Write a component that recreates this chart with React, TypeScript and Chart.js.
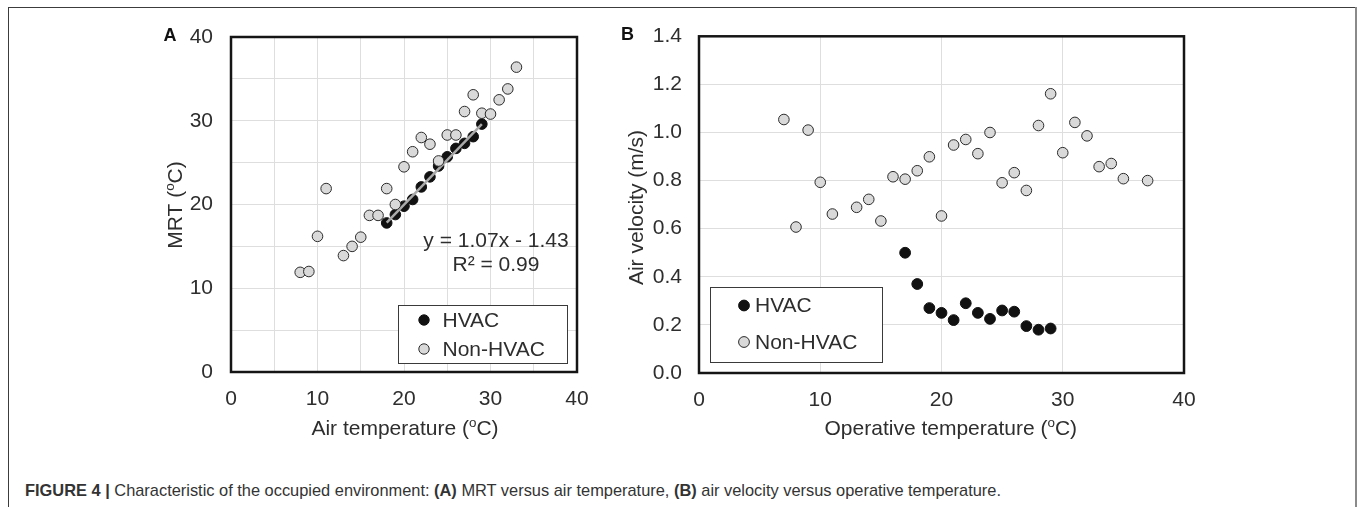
import React, { useEffect, useRef } from 'react';
import { Chart, registerables } from 'chart.js';

Chart.register(...registerables);

const FONT = '"Liberation Sans", Arial, Helvetica, sans-serif';

// ---------- Panel A: MRT vs air temperature ----------
const aHvacX = [18, 19, 20, 21, 22, 23, 24, 25, 26, 27, 28, 29];
const aHvacY = [17.8, 18.8, 19.8, 20.6, 22.1, 23.3, 24.6, 25.7, 26.7, 27.3, 28.1, 29.6];
const aNonX = [8, 9, 10, 11, 13, 14, 15, 16, 17, 18, 19, 20, 21, 22, 23, 24, 25, 26, 27, 28, 29, 30, 31, 32, 33];
const aNonY = [11.9, 12.0, 16.2, 21.9, 13.9, 15.0, 16.1, 18.7, 18.7, 21.9, 20.0, 24.5, 26.3, 28.0, 27.2, 25.2, 28.3, 28.3, 31.1, 33.1, 30.9, 30.8, 32.5, 33.8, 36.4];
const aTrendX = [18, 29];
const aTrendY = [17.83, 29.6];
const aTicks = [0, 10, 20, 30, 40];
const aEquation = 'y = 1.07x - 1.43';
const aR2 = 'R² = 0.99';

// ---------- Panel B: air velocity vs operative temperature ----------
const bHvacX = [17, 18, 19, 20, 21, 22, 23, 24, 25, 26, 27, 28, 29];
const bHvacY = [0.5, 0.37, 0.27, 0.25, 0.22, 0.29, 0.25, 0.225, 0.26, 0.255, 0.195, 0.18, 0.185];
const bNonX = [7, 8, 9, 10, 11, 13, 14, 15, 16, 17, 18, 19, 20, 21, 22, 23, 24, 25, 26, 27, 28, 29, 30, 31, 32, 33, 34, 35, 37];
const bNonY = [1.054, 0.607, 1.01, 0.793, 0.661, 0.689, 0.722, 0.632, 0.816, 0.806, 0.841, 0.899, 0.653, 0.948, 0.971, 0.912, 1.0, 0.791, 0.833, 0.759, 1.029, 1.161, 0.916, 1.042, 0.986, 0.858, 0.871, 0.808, 0.8];
const bXTicks = [0, 10, 20, 30, 40];
const bYTicks = ['0.0', '0.2', '0.4', '0.6', '0.8', '1.0', '1.2', '1.4'];

const seriesNames = ['HVAC', 'Non-HVAC'];

const HVAC_FILL = '#111111';
const NON_FILL = '#d9d9d9';
const EDGE = '#2b2b2b';
const TEXT = '#2e2e2e';
const GRID = '#dedede';

const toPts = (xs: number[], ys: number[]) => xs.map((x, i) => ({ x, y: ys[i] }));

type Part = { t: string; sup?: boolean };

function drawParts(ctx: CanvasRenderingContext2D, parts: Part[], cx: number, size: number) {
  const supSize = size * 0.64;
  const widths = parts.map((p) => {
    ctx.font = `${p.sup ? supSize : size}px ${FONT}`;
    return ctx.measureText(p.t).width;
  });
  const total = widths.reduce((s, w) => s + w, 0);
  let x = cx - total / 2;
  parts.forEach((p, i) => {
    ctx.font = `${p.sup ? supSize : size}px ${FONT}`;
    ctx.fillText(p.t, x, p.sup ? -size * 0.36 : 0);
    x += widths[i];
  });
}

type Deco = {
  letter: { x: number; y: number; t: string };
  xTitle: { parts: Part[]; cx: number; base: number; size: number };
  yTitle: { parts: Part[]; cy: number; base: number; size: number };
  legend: { x1: number; y1: number; x2: number; y2: number; mx: number; my: number[]; tx: number; size: number; r: number };
  notes?: { t: string; cx: number; base: number; size: number }[];
};

function makeDeco(d: Deco) {
  return {
    id: 'deco',
    beforeDatasetsDraw(chart: any) {
      const { ctx, chartArea: a } = chart;
      ctx.save();
      ctx.strokeStyle = '#151515';
      ctx.lineWidth = 2.5;
      ctx.strokeRect(a.left, a.top, a.right - a.left, a.bottom - a.top);
      ctx.restore();
    },
    afterDraw(chart: any) {
      const ctx: CanvasRenderingContext2D = chart.ctx;
      ctx.save();
      // panel letter
      ctx.font = `bold 18px ${FONT}`;
      ctx.textAlign = 'center';
      ctx.textBaseline = 'middle';
      ctx.fillStyle = '#111';
      ctx.fillText(d.letter.t, d.letter.x, d.letter.y);
      ctx.fillStyle = TEXT;
      ctx.textAlign = 'left';
      ctx.textBaseline = 'alphabetic';
      // x title
      ctx.save();
      ctx.translate(0, d.xTitle.base);
      drawParts(ctx, d.xTitle.parts, d.xTitle.cx, d.xTitle.size);
      ctx.restore();
      // y title
      ctx.save();
      ctx.translate(d.yTitle.base, d.yTitle.cy);
      ctx.rotate(-Math.PI / 2);
      drawParts(ctx, d.yTitle.parts, 0, d.yTitle.size);
      ctx.restore();
      // notes
      (d.notes || []).forEach((n) => {
        ctx.font = `${n.size}px ${FONT}`;
        ctx.textAlign = 'center';
        ctx.fillText(n.t, n.cx, n.base);
      });
      // legend
      const L = d.legend;
      ctx.fillStyle = '#ffffff';
      ctx.fillRect(L.x1, L.y1, L.x2 - L.x1, L.y2 - L.y1);
      ctx.strokeStyle = '#3a3a3a';
      ctx.lineWidth = 1;
      ctx.strokeRect(Math.round(L.x1) + 0.5, Math.round(L.y1) + 0.5, Math.round(L.x2 - L.x1), Math.round(L.y2 - L.y1));
      const fills = [HVAC_FILL, NON_FILL];
      seriesNames.forEach((name, i) => {
        ctx.beginPath();
        ctx.arc(L.mx, L.my[i], L.r, 0, Math.PI * 2);
        ctx.fillStyle = fills[i];
        ctx.fill();
        ctx.strokeStyle = i === 0 ? HVAC_FILL : EDGE;
        ctx.lineWidth = 1;
        ctx.stroke();
        ctx.fillStyle = TEXT;
        ctx.font = `${L.size}px ${FONT}`;
        ctx.textAlign = 'left';
        ctx.textBaseline = 'middle';
        ctx.fillText(name, L.tx, L.my[i] + 1);
      });
      ctx.restore();
    },
  };
}

function ScatterPanel(props: { left: number; top: number; w: number; h: number; config: () => any }) {
  const ref = useRef<HTMLCanvasElement | null>(null);
  useEffect(() => {
    if (!ref.current) return;
    const chart = new Chart(ref.current, props.config());
    return () => chart.destroy();
  }, []);
  return (
    <canvas
      ref={ref}
      width={props.w}
      height={props.h}
      style={{ position: 'absolute', left: props.left, top: props.top, width: props.w, height: props.h, display: 'block' }}
    />
  );
}

const fixX = (h: number) => (s: any) => {
  s.height = h;
  s.paddingLeft = 0; s.paddingRight = 0; s.paddingTop = 0; s.paddingBottom = 0;
};
const fixY = (w: number) => (s: any) => {
  s.width = w;
  s.paddingLeft = 0; s.paddingRight = 0; s.paddingTop = 0; s.paddingBottom = 0;
};

const titlePartsA_x: Part[] = [{ t: 'Air temperature (' }, { t: 'o', sup: true }, { t: 'C)' }];
const titlePartsA_y: Part[] = [{ t: 'MRT (' }, { t: 'o', sup: true }, { t: 'C)' }];
const titlePartsB_x: Part[] = [{ t: 'Operative temperature (' }, { t: 'o', sup: true }, { t: 'C)' }];
const titlePartsB_y: Part[] = [{ t: 'Air velocity (m/s)' }];

const FS = 21;

function configA() {
  const fontA = { family: FONT, size: FS };
  return {
    type: 'scatter',
    data: {
      datasets: [
        {
          label: seriesNames[1], data: toPts(aNonX, aNonY), order: 0,
          backgroundColor: NON_FILL, borderColor: EDGE, borderWidth: 1, pointRadius: 5.3,
        },
        {
          label: 'trend', type: 'line', data: toPts(aTrendX, aTrendY), order: 1,
          showLine: true, borderColor: '#a9a9a9', borderWidth: 2.5, pointRadius: 0, fill: false,
        },
        {
          label: seriesNames[0], data: toPts(aHvacX, aHvacY), order: 2,
          backgroundColor: HVAC_FILL, borderColor: HVAC_FILL, borderWidth: 1, pointRadius: 5.3,
        },
      ],
    },
    options: {
      animation: false, responsive: false, events: [],
      layout: { padding: { top: 17, right: 23, left: 0, bottom: 0 } },
      plugins: { legend: { display: false }, tooltip: { enabled: false } },
      scales: {
        x: {
          type: 'linear', min: 0, max: 40,
          afterFit: fixX(78),
          border: { display: false },
          grid: { color: GRID, lineWidth: 1, drawTicks: false },
          ticks: {
            stepSize: 5, autoSkip: false, maxRotation: 0, padding: 15, color: TEXT, font: fontA,
            callback: (v: number) => (aTicks.includes(v) ? String(v) : ''),
          },
        },
        y: {
          type: 'linear', min: 0, max: 40,
          afterFit: fixY(101),
          border: { display: false },
          grid: { color: GRID, lineWidth: 1, drawTicks: false },
          ticks: {
            stepSize: 5, autoSkip: false, padding: 18, color: TEXT, font: fontA,
            callback: (v: number) => (aTicks.includes(v) ? String(v) : ''),
          },
        },
      },
    },
    plugins: [
      makeDeco({
        letter: { x: 40, y: 16, t: 'A' },
        xTitle: { parts: titlePartsA_x, cx: 275, base: 414.5, size: FS },
        yTitle: { parts: titlePartsA_y, cy: 185, base: 51.5, size: FS },
        notes: [
          { t: aEquation, cx: 366, base: 226.5, size: FS },
          { t: aR2, cx: 366, base: 250.5, size: FS },
        ],
        legend: { x1: 268, y1: 285, x2: 437, y2: 343, mx: 294, my: [300, 329], tx: 312.5, size: FS, r: 5.2 },
      }),
    ],
  };
}

function configB() {
  const fontB = { family: FONT, size: FS };
  return {
    type: 'scatter',
    data: {
      datasets: [
        {
          label: seriesNames[0], data: toPts(bHvacX, bHvacY), order: 0,
          backgroundColor: HVAC_FILL, borderColor: HVAC_FILL, borderWidth: 1, pointRadius: 5.4,
        },
        {
          label: seriesNames[1], data: toPts(bNonX, bNonY), order: 1,
          backgroundColor: NON_FILL, borderColor: EDGE, borderWidth: 1, pointRadius: 5.3,
        },
      ],
    },
    options: {
      animation: false, responsive: false, events: [],
      layout: { padding: { top: 16.3, right: 46, left: 0, bottom: 0 } },
      plugins: { legend: { display: false }, tooltip: { enabled: false } },
      scales: {
        x: {
          type: 'linear', min: 0, max: 40,
          afterFit: fixX(77),
          border: { display: false },
          grid: { color: GRID, lineWidth: 1, drawTicks: false },
          ticks: {
            stepSize: 10, autoSkip: false, maxRotation: 0, padding: 14.5, color: TEXT, font: fontB,
            callback: (v: number) => (bXTicks.includes(v) ? String(v) : ''),
          },
        },
        y: {
          type: 'linear', min: 0, max: 1.4,
          afterFit: fixY(109),
          border: { display: false },
          grid: { color: GRID, lineWidth: 1, drawTicks: false },
          ticks: {
            stepSize: 0.2, autoSkip: false, padding: 17, color: TEXT, font: fontB,
            callback: (v: number) => bYTicks[Math.round(v / 0.2)] ?? '',
          },
        },
      },
    },
    plugins: [
      makeDeco({
        letter: { x: 37.5, y: 15.5, t: 'B' },
        xTitle: { parts: titlePartsB_x, cx: 360.8, base: 415, size: FS },
        yTitle: { parts: titlePartsB_y, cy: 187.5, base: 53.4, size: FS },
        legend: { x1: 120, y1: 267, x2: 292, y2: 342, mx: 154, my: [285.5, 322], tx: 165, size: FS, r: 5.4 },
      }),
    ],
  };
}

export default function App() {
  return (
    <div style={{ position: 'absolute', left: 0, top: 0, width: 1360, height: 507, overflow: 'hidden', background: '#fff' }}>
      <div style={{ position: 'absolute', left: 8, top: 7, width: 1347, height: 520, borderLeft: '1px solid #3c3c3c', borderTop: '1px solid #3c3c3c' }} />
      <div style={{ position: 'absolute', left: 1355, top: 7, width: 2, height: 520, background: '#8a8a8a' }} />
      <ScatterPanel left={130} top={20} w={470} h={430} config={configA} />
      <ScatterPanel left={590} top={20} w={640} h={430} config={configB} />
      <div
        style={{
          position: 'absolute', left: 25, top: 482, fontFamily: FONT, fontSize: 16.4, lineHeight: '16px',
          color: '#333', whiteSpace: 'nowrap',
        }}
      >
        <b>FIGURE 4 |</b> Characteristic of the occupied environment: <b>(A)</b> MRT versus air temperature, <b>(B)</b> air velocity versus operative temperature.
      </div>
    </div>
  );
}
